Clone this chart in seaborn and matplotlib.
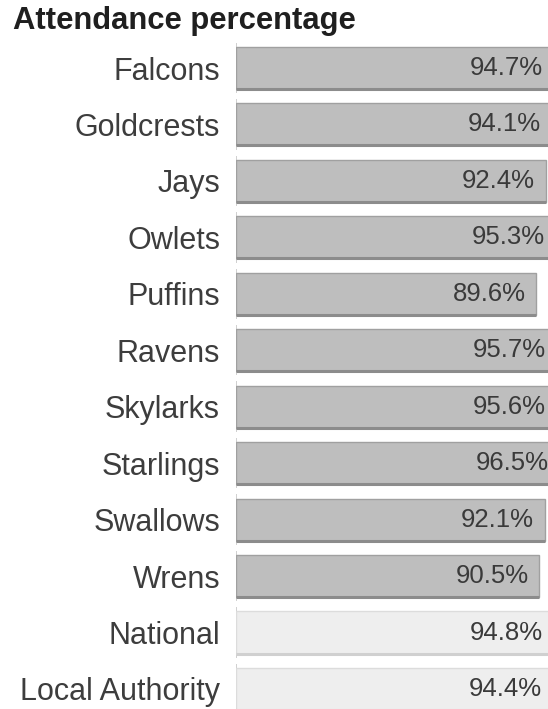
import matplotlib
matplotlib.use("Agg")
import matplotlib.pyplot as plt
import seaborn as sns
import pandas as pd

# ---- data ----
categories = ["Falcons", "Goldcrests", "Jays", "Owlets", "Puffins", "Ravens",
              "Skylarks", "Starlings", "Swallows", "Wrens", "National",
              "Local Authority"]
values = [94.7, 94.1, 92.4, 95.3, 89.6, 95.7, 95.6, 96.5, 92.1, 90.5, 94.8, 94.4]
groups = ["Class"] * 10 + ["Comparison"] * 2
title = "Attendance percentage"

sns.set_theme(style="white")
plt.rcParams["font.family"] = ["Liberation Sans", "DejaVu Sans"]

W, H = 548, 709
fig = plt.figure(figsize=(W / 100, H / 100), dpi=100)
ax = fig.add_axes([236 / W, 0, 335 / W, 1])

df = pd.DataFrame({"category": categories, "value": values, "group": groups})
palette = {"Class": "#bebebe", "Comparison": "#eeeeee"}
edge_main = {"Class": "#a0a0a0", "Comparison": "#dcdcdc"}
edge_bottom = {"Class": "#8c8c8c", "Comparison": "#d0d0d0"}

sns.barplot(data=df, x="value", y="category", hue="group", palette=palette,
            dodge=False, width=0.745, ax=ax, legend=False, saturation=1,
            linewidth=0, order=categories)

ax.set_xlim(0, 100)
ax.set_ylim(11.355, -1.2046)

# left tick segments per row
for i in range(len(categories)):
    ax.vlines(0, i - 0.447, i + 0.447, color="#cdcdcd", lw=1.3, zorder=0.5)

# bar edges and value labels
bars = sorted(ax.patches, key=lambda p: p.get_y())
for p, val, g in zip(bars, values, groups):
    x0, y0, w, h = p.get_x(), p.get_y(), p.get_width(), p.get_height()
    p.set_edgecolor(edge_main[g])
    p.set_linewidth(1)
    p.set_zorder(2)
    ax.plot([x0, x0 + w], [y0 + h, y0 + h], color=edge_bottom[g], lw=2.2,
            zorder=3, solid_capstyle="butt")
    ax.annotate(f"{val}%", xy=(x0 + w, y0 + h / 2), xytext=(-7.6, 0),
                textcoords="offset points", ha="right", va="center",
                fontsize=18.5, color="#3a3a3a", zorder=4)

for s in ax.spines.values():
    s.set_visible(False)
ax.set_xticks([])
ax.set_xlabel("")
ax.set_ylabel("")
ax.tick_params(axis="y", length=0, pad=11.5, labelsize=22, labelcolor="#3d3d3d")

fig.text(13 / W, 1 - 29 / H, title, fontsize=22.3, fontweight="bold",
         va="baseline", ha="left", color="#1f1f1f")

fig.savefig("out.png", dpi=100)
